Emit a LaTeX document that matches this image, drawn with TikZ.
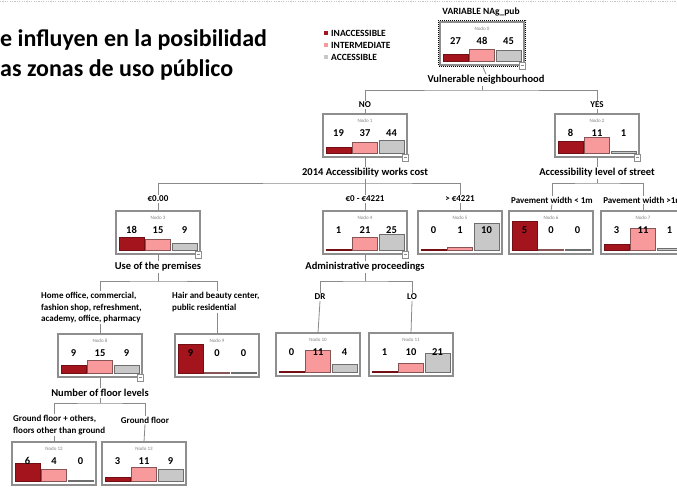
\documentclass[tikz,border=0pt]{standalone}
\usepackage{fontspec}
\setmainfont{Carlito}
\definecolor{inacc}{HTML}{A3141C}
\definecolor{inter}{HTML}{F89A9C}
\definecolor{acc}{HTML}{C8C8C8}
\definecolor{boxgray}{HTML}{8E8E8E}
\definecolor{linegray}{HTML}{8A8A8A}
\tikzset{
  tbox/.style={draw=boxgray, line width=1.4pt, fill=white, minimum width=84pt, minimum height=43pt, inner sep=0pt, outer sep=0pt},
  nodolbl/.style={font=\fontsize{5}{6}\selectfont, text=gray, inner sep=0pt},
  num/.style={font=\bfseries\fontsize{10.5}{12}\selectfont, inner sep=0pt},
  varlbl/.style={font=\bfseries\fontsize{10.5}{12}\selectfont, inner sep=1pt},
  brlbl/.style={font=\bfseries\fontsize{9}{11.5}\selectfont, inner sep=1pt},
  leglbl/.style={font=\bfseries\fontsize{9.5}{11}\selectfont, inner sep=0pt, anchor=west},
  conn/.style={draw=linegray, line width=0.8pt},
  barline/.style={line width=0.6pt},
  titletext/.style={font=\bfseries\fontsize{24}{28}\selectfont, inner sep=0pt, anchor=base west},
}
% #1 name, #2 cx, #3 top, #4 nodo number, #5 #6 #7 counts
\newcommand\tnode[7]{%
  \node[tbox, anchor=north] (#1) at (#2,#3) {};
  \node[nodolbl] at ([yshift=-6.5pt]#1.north) {Nodo #4};
  \pgfmathsetmacro\tot{#5+#6+#7}%
  \pgfmathsetmacro\ha{max(29*#5/\tot,0.8)}%
  \pgfmathsetmacro\hb{max(29*#6/\tot,0.8)}%
  \pgfmathsetmacro\hc{max(29*#7/\tot,0.8)}%
  \draw[barline, fill=inacc, draw=inacc!70!black] ([xshift=3pt,yshift=4pt]#1.south west) rectangle +(25pt,\ha pt);
  \draw[barline, fill=inter, draw=inter!55!black] ([xshift=29.5pt,yshift=4pt]#1.south west) rectangle +(25pt,\hb pt);
  \draw[barline, fill=acc, draw=acc!55!black] ([xshift=56pt,yshift=4pt]#1.south west) rectangle +(25pt,\hc pt);
  \node[num] at ([xshift=15.5pt,yshift=-19pt]#1.north west) {#5};
  \node[num] at ([xshift=42pt,yshift=-19pt]#1.north west) {#6};
  \node[num] at ([xshift=68.5pt,yshift=-19pt]#1.north west) {#7};
}
\newcommand\collapsemark[1]{%
  \draw[draw=boxgray, fill=white, line width=0.5pt] ([shift={(-5pt,-4pt)}]#1.south east) rectangle ([shift={(1pt,3pt)}]#1.south east);
  \draw[draw=boxgray, line width=0.4pt] ([shift={(-3.5pt,-0.5pt)}]#1.south east) -- ([shift={(-0.5pt,-0.5pt)}]#1.south east);
}
\begin{document}
\begin{tikzpicture}[x=1pt, y=-1pt]
\useasboundingbox (0,0) rectangle (677,489);
\fill[white] (0,0) rectangle (677,489);
\draw[gray!45, line width=0.8pt, dash pattern=on 1.2pt off 1.2pt] (0,1.5) -- (677,1.5);

% title
\node[titletext] (t1) at (0,47) {e influyen en la posibilidad};
\node[titletext] (t2) at (0,77) {as zonas de uso público};

% legend
\fill[inacc] (324,31) rectangle (328,35);
\fill[inter] (324,43) rectangle (328,47);
\fill[acc] (324,55) rectangle (328,59);
\node[leglbl] (l1) at (331,33) {INACCESSIBLE};
\node[leglbl] (l2) at (331,45) {INTERMEDIATE};
\node[leglbl] (l3) at (331,57) {ACCESSIBLE};

% root
\node[varlbl, font=\bfseries\fontsize{9.5}{11}\selectfont] (title0) at (481,12) {VARIABLE NAg\_pub};
\tnode{n0}{482}{22}{0}{27}{48}{45}
\draw[black, line width=1.5pt, dash pattern=on 1pt off 1pt] ([shift={(-1.5pt,1.5pt)}]n0.north west) rectangle ([shift={(1.5pt,-1.5pt)}]n0.south east);
\collapsemark{n0}

% level 1
\node[varlbl] (v0) at (486,80) {Vulnerable neighbourhood};
\coordinate (j0) at (482,90);
\node[brlbl] (b1) at (365,105) {NO};
\node[brlbl] (b2) at (597,105) {YES};
\tnode{n1}{365}{114}{1}{19}{37}{44}
\tnode{n2}{597}{114}{2}{8}{11}{1}
\collapsemark{n1}
\collapsemark{n2}
\draw[conn] (n0.south) -- (v0.north);
\draw[conn] (v0.south -| j0) -- (j0);
\draw[conn] (b1.north) |- (j0) -| (b2.north);
\draw[conn] (b1.south) -- (n1.north);
\draw[conn] (b2.south) -- (n2.north);

% level 2
\node[varlbl] (v1) at (365,173) {2014 Accessibility works cost};
\node[varlbl] (v2) at (597,173) {Accessibility level of street};
\coordinate (j1) at (365,183);
\coordinate (j2) at (597,183);
\node[brlbl] (b3) at (158,199) {€0.00};
\node[brlbl] (b4) at (365,199) {€0 - €4221};
\node[brlbl] (b5) at (460,199) {> €4221};
\node[brlbl] (b6) at (552,200) {Pavement width < 1m};
\node[brlbl] (b7) at (643,200) {Pavement width >1m};
\tnode{n3}{158}{211}{3}{18}{15}{9}
\tnode{n4}{365}{211}{4}{1}{21}{25}
\tnode{n5}{460}{211}{5}{0}{1}{10}
\tnode{n6}{551}{211}{6}{5}{0}{0}
\tnode{n7}{643}{211}{7}{3}{11}{1}
\collapsemark{n3}
\collapsemark{n4}
\draw[conn] (n1.south) -- (v1.north);
\draw[conn] (n2.south) -- (v2.north);
\draw[conn] (v1.south) -- (j1);
\draw[conn] (v2.south) -- (j2);
\draw[conn] (b3.north) |- (j1) -| (b5.north);
\draw[conn] (j1) -- (b4.north);
\draw[conn] (b6.north) |- (j2) -| (b7.north);
\draw[conn] (b3.south) -- (n3.north);
\draw[conn] (b4.south) -- (n4.north);
\draw[conn] (b5.south) -- (n5.north);
\draw[conn] (b6.south) -- (n6.north);
\draw[conn] (b7.south) -- (n7.north);

% level 3
\node[varlbl] (v3) at (158,267) {Use of the premises};
\node[varlbl] (v4) at (365,267) {Administrative proceedings};
\coordinate (j3) at (158,281);
\coordinate (j4) at (365,281);
\node[brlbl, align=left, anchor=north west] (b8) at (40,291) {Home office, commercial,\\fashion shop, refreshment,\\academy, office, pharmacy};
\node[brlbl, align=left, anchor=north west] (b9) at (171,291) {Hair and beauty center,\\public residential};
\node[brlbl] (b10) at (320,297) {DR};
\node[brlbl] (b11) at (412,297) {LO};
\tnode{n8}{100}{334}{8}{9}{15}{9}
\tnode{n9}{217}{334}{9}{9}{0}{0}
\tnode{n10}{318}{333}{10}{0}{11}{4}
\tnode{n11}{411}{333}{11}{1}{10}{21}
\collapsemark{n8}
\draw[conn] (n3.south) -- (v3.north);
\draw[conn] (n4.south) -- (v4.north);
\draw[conn] (v3.south) -- (j3);
\draw[conn] (v4.south) -- (j4);
\draw[conn] (n8.north |- b8.north) |- (j3) -| (n9.north |- b9.north);
\draw[conn] (b10.north) |- (j4) -| (b11.north);
\draw[conn] (n8.north |- b8.south) -- (n8.north);
\draw[conn] (n9.north |- b9.south) -- (n9.north);
\draw[conn] (b10.south) -- (n10.north);
\draw[conn] (b11.south) -- (n11.north);

% level 4
\node[varlbl] (v8) at (100,393) {Number of floor levels};
\coordinate (j8) at (100,403);
\node[brlbl, align=left, anchor=north west] (b12) at (12,414) {Ground floor + others,\\floors other than ground};
\node[brlbl] (b13) at (145,420) {Ground floor};
\tnode{n12}{54}{442}{12}{6}{4}{0}
\tnode{n13}{144}{442}{13}{3}{11}{9}
\draw[conn] (n8.south) -- (v8.north);
\draw[conn] (v8.south) -- (j8);
\draw[conn] (n12.north |- b12.north) |- (j8) -| (b13.north);
\draw[conn] (n12.north |- b12.south) -- (n12.north);
\draw[conn] (b13.south) -- (n13.north);
\end{tikzpicture}
\end{document}
